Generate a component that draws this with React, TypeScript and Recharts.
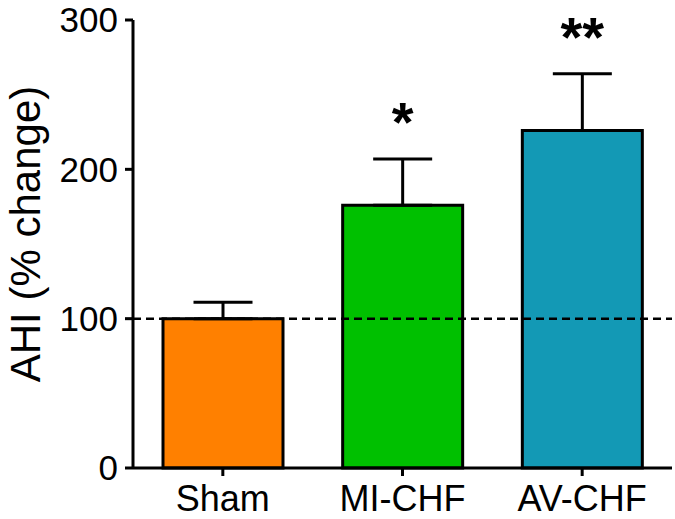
import { BarChart, Bar, XAxis, YAxis, ErrorBar, ReferenceLine, Cell, LabelList } from 'recharts'

const groups = ['Sham', 'MI-CHF', 'AV-CHF']
const means = [100, 176, 226]
const sem = [11, 31, 38]
const stars = ['', '*', '**']
const colors = ['#FF8000', '#00C000', '#1399B5']
const yTicks = [0, 100, 200, 300]

const data = groups.map((g, i) => ({ group: g, ahi: means[i], err: [0, sem[i]], star: stars[i] }))

const FONT = 'Arial, "Liberation Sans", sans-serif'

function StarLabel(props: any) {
  const { x, y, width, height, index, value } = props
  if (!value) return null
  // error bar top in pixels, from the bar's own px/unit
  const pxPerUnit = height / means[index]
  const top = y - sem[index] * pxPerUnit
  return (
    <text x={x + width / 2} y={top - 18} textAnchor="middle" fontFamily={FONT} fontSize={56} fontWeight="bold" fill="#000">
      {value}
    </text>
  )
}

export default function App() {
  return (
    <div style={{ position: 'absolute', left: 0, top: 0, width: 675, height: 519, background: '#fff' }}>
      <BarChart width={675} height={519} data={data} margin={{ top: 20, right: 3, bottom: 0, left: 0 }}>
        <XAxis
          dataKey="group"
          height={51}
          axisLine={{ stroke: '#000', strokeWidth: 3 }}
          tickLine={{ stroke: '#000', strokeWidth: 3 }}
          tickSize={8}
          tickMargin={9}
          tick={{ fill: '#000', fontSize: 36, fontFamily: FONT }}
        />
        <YAxis
          width={133}
          domain={[0, 300]}
          ticks={yTicks}
          interval={0}
          axisLine={{ stroke: '#000', strokeWidth: 3 }}
          tickLine={{ stroke: '#000', strokeWidth: 3 }}
          tickSize={8}
          tickMargin={7}
          tick={{ fill: '#000', fontSize: 35, fontFamily: FONT }}
          label={{
            content: () => (
              <text transform="translate(40,234) rotate(-90)" textAnchor="middle" fontFamily={FONT} fontSize={42} fill="#000">
                AHI (% change)
              </text>
            ),
          }}
        />
        <Bar dataKey="ahi" barSize={120} stroke="#000" strokeWidth={3} isAnimationActive={false}>
          {data.map((d, i) => (
            <Cell key={d.group} fill={colors[i]} />
          ))}
          <ErrorBar dataKey="err" direction="y" width={29.5} stroke="#000" strokeWidth={3} isAnimationActive={false} />
          <LabelList dataKey="star" content={StarLabel} />
        </Bar>
        <ReferenceLine y={100} stroke="#000" strokeWidth={2.5} strokeDasharray="8 5" />
      </BarChart>
    </div>
  )
}
